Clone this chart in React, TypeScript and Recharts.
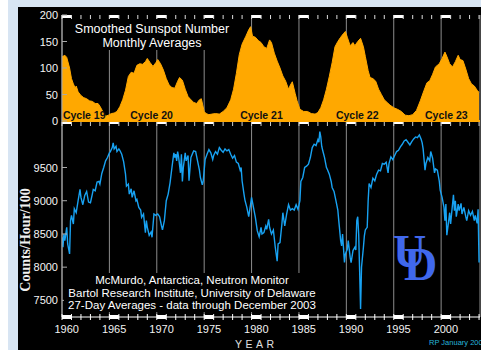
import React from 'react';
import { AreaChart, Area, LineChart, Line, XAxis, YAxis, CartesianGrid, ReferenceDot } from 'recharts';

const sunspotYears = [
  1960.0, 1960.3, 1960.5, 1960.8, 1961.0, 1961.2, 1961.4, 1961.5, 1961.7, 1962.0, 1962.3, 1962.6, 1962.9,
  1963.2, 1963.5, 1963.8, 1964.0, 1964.3, 1964.6, 1964.9, 1965.2, 1965.5, 1965.8, 1966.1, 1966.4, 1966.7,
  1967.0, 1967.3, 1967.6, 1967.9, 1968.2, 1968.5, 1968.8, 1969.0, 1969.3, 1969.6, 1969.9, 1970.1, 1970.4,
  1970.7, 1971.0, 1971.3, 1971.6, 1971.9, 1972.2, 1972.4, 1972.7, 1973.0, 1973.3, 1973.6, 1973.9, 1974.2,
  1974.5, 1974.7, 1975.0, 1975.2, 1975.5, 1975.8, 1976.2, 1976.6, 1977.0, 1977.4, 1977.8, 1978.1, 1978.4,
  1978.7, 1979.0, 1979.4, 1979.7, 1979.9, 1980.1, 1980.4, 1980.7, 1981.0, 1981.3, 1981.6, 1981.9, 1982.1,
  1982.4, 1982.7, 1983.0, 1983.3, 1983.6, 1983.9, 1984.1, 1984.3, 1984.6, 1984.8, 1985.1, 1985.5, 1985.9,
  1986.3, 1986.7, 1987.0, 1987.3, 1987.6, 1987.9, 1988.2, 1988.5, 1988.8, 1989.1, 1989.4, 1989.7, 1989.9,
  1990.1, 1990.4, 1990.7, 1990.9, 1991.2, 1991.5, 1991.8, 1992.0, 1992.3, 1992.5, 1992.8, 1993.1, 1993.4,
  1993.7, 1994.0, 1994.3, 1994.6, 1995.0, 1995.4, 1995.8, 1996.2, 1996.6, 1997.0, 1997.4, 1997.8, 1998.2,
  1998.5, 1998.8, 1999.1, 1999.4, 1999.8, 2000.1, 2000.4, 2000.6, 2000.9, 2001.2, 2001.5, 2001.8, 2002.0,
  2002.3, 2002.6, 2002.9, 2003.2, 2003.5, 2003.8, 2004.0,
];
const sunspotValues = [
  121, 124, 120, 100, 80, 70, 62, 66, 55, 48, 44, 42, 38,
  37, 33, 33, 28, 18, 9, 11, 14, 15, 18, 27, 40, 58,
  84, 92, 90, 105, 108, 107, 112, 118, 110, 103, 110, 116, 108,
  96, 80, 68, 63, 62, 75, 82, 77, 60, 46, 40, 35, 33,
  40, 42, 18, 14, 12, 13, 14, 13, 18, 25, 40, 60, 90,
  125, 145, 160, 172, 178, 160, 158, 152, 148, 140, 137, 153, 148,
  128, 113, 100, 85, 75, 60, 68, 74, 52, 38, 22, 18, 18,
  14, 13, 16, 25, 40, 60, 84, 110, 140, 150, 158, 165, 169,
  158, 142, 148, 142, 150, 156, 140, 122, 95, 82, 80, 75, 60,
  50, 40, 35, 30, 25, 22, 18, 11, 10, 12, 20, 38, 58,
  72, 76, 88, 102, 108, 118, 130, 122, 108, 102, 112, 124, 116,
  114, 98, 80, 70, 66, 58, 54,
];

const neutronYears = [
  1960.0, 1960.1, 1960.2, 1960.3, 1960.5, 1960.6, 1960.8, 1960.9, 1961.0, 1961.2, 1961.3, 1961.5, 1961.7, 1961.9,
  1962.0, 1962.2, 1962.4, 1962.6, 1962.8, 1963.0, 1963.2, 1963.3, 1963.5, 1963.7, 1963.9, 1964.0, 1964.2, 1964.4,
  1964.6, 1964.8, 1965.0, 1965.1, 1965.3, 1965.4, 1965.5, 1965.7, 1965.8, 1966.0, 1966.1, 1966.3, 1966.5, 1966.7,
  1966.8, 1967.0, 1967.1, 1967.3, 1967.4, 1967.6, 1967.8, 1967.9, 1968.1, 1968.3, 1968.4, 1968.6, 1968.8, 1968.9,
  1969.0, 1969.2, 1969.4, 1969.5, 1969.7, 1969.9, 1970.1, 1970.3, 1970.5, 1970.6, 1970.8, 1971.0, 1971.2, 1971.4,
  1971.6, 1971.8, 1971.9, 1972.0, 1972.1, 1972.2, 1972.3, 1972.5, 1972.6, 1972.7, 1972.8, 1973.0, 1973.1, 1973.3,
  1973.4, 1973.6, 1973.8, 1973.9, 1974.1, 1974.3, 1974.5, 1974.6, 1974.8, 1974.9, 1975.1, 1975.3, 1975.5, 1975.7,
  1975.9, 1976.0, 1976.2, 1976.4, 1976.6, 1976.8, 1977.0, 1977.2, 1977.4, 1977.6, 1977.8, 1978.0, 1978.2, 1978.4,
  1978.6, 1978.8, 1978.9, 1979.0, 1979.2, 1979.3, 1979.5, 1979.7, 1979.9, 1980.0, 1980.2, 1980.4, 1980.6, 1980.8,
  1981.0, 1981.1, 1981.3, 1981.5, 1981.6, 1981.8, 1981.9, 1982.1, 1982.3, 1982.5, 1982.7, 1982.8, 1983.0, 1983.2,
  1983.3, 1983.5, 1983.7, 1983.9, 1984.1, 1984.3, 1984.5, 1984.7, 1984.9, 1985.1, 1985.2, 1985.4, 1985.6, 1985.8,
  1986.0, 1986.2, 1986.4, 1986.6, 1986.8, 1987.0, 1987.1, 1987.2, 1987.3, 1987.4, 1987.5, 1987.7, 1987.9, 1988.0,
  1988.2, 1988.4, 1988.5, 1988.7, 1988.9, 1989.1, 1989.2, 1989.4, 1989.5, 1989.6, 1989.8, 1989.9, 1990.1, 1990.2,
  1990.4, 1990.5, 1990.7, 1990.9, 1991.0, 1991.1, 1991.2, 1991.3, 1991.4, 1991.5, 1991.6, 1991.8, 1991.9, 1992.0,
  1992.2, 1992.3, 1992.4, 1992.6, 1992.8, 1993.0, 1993.2, 1993.4, 1993.6, 1993.8, 1994.0, 1994.2, 1994.4, 1994.5,
  1994.7, 1994.9, 1995.1, 1995.3, 1995.5, 1995.7, 1995.9, 1996.1, 1996.3, 1996.5, 1996.7, 1996.9, 1997.1, 1997.3,
  1997.5, 1997.7, 1997.9, 1998.0, 1998.1, 1998.3, 1998.4, 1998.6, 1998.8, 1998.9, 1999.1, 1999.3, 1999.4, 1999.6,
  1999.8, 1999.9, 2000.1, 2000.3, 2000.4, 2000.5, 2000.6, 2000.8, 2000.9, 2001.0, 2001.1, 2001.3, 2001.4, 2001.5,
  2001.6, 2001.8, 2001.9, 2002.1, 2002.2, 2002.4, 2002.6, 2002.7, 2002.9, 2003.1, 2003.3, 2003.5, 2003.6, 2003.8,
  2003.9, 2004.0,
];
const neutronValues = [
  8450, 8300, 8500, 8400, 8600, 8350, 8200, 8700, 8780, 8650, 8880, 8820, 9000, 9170,
  9050, 8940, 9080, 9140, 8980, 8970, 9100, 9170, 9150, 9280, 9290, 9250, 9410, 9500,
  9600, 9650, 9720, 9740, 9800, 9870, 9780, 9820, 9740, 9780, 9760, 9700, 9590, 9400,
  9220, 9250, 9100, 9180, 9050, 9150, 9000, 9020, 8900, 8860, 8750, 8800, 8520, 8700,
  8600, 8480, 8530, 8450, 8800, 8780, 8800, 8760, 8620, 8560, 8700, 9000, 9100, 9270,
  9500, 9720, 9650, 9700, 9600, 9740, 9660, 9420, 9700, 9290, 9500, 9720, 9600, 9680,
  9300, 9650, 9720, 9750, 9740, 9600, 9460, 9350, 9240, 9300, 9620, 9700, 9770, 9720,
  9620, 9680, 9740, 9700, 9800, 9760, 9730, 9780, 9750, 9770, 9700, 9640, 9680, 9580,
  9560, 9460, 9500, 9300, 9100, 9010, 8900, 8760, 8950, 9050, 8900, 8750, 8550, 8460,
  8600, 8500, 8520, 8620, 8570, 8720, 8600, 8500, 8560, 8300, 8090, 8350, 8370, 8650,
  8820, 8620, 8800, 8940, 8860, 8880, 8860, 8940, 8870, 9000, 9290, 9350, 9500, 9520,
  9550, 9650, 9800, 9850, 9830, 9920, 9880, 10040, 9960, 9820, 9760, 9650, 9500, 9470,
  9400, 9290, 9200, 9140, 9000, 8860, 8700, 8400, 8320, 8500, 8070, 8200, 8270, 8400,
  8150, 8070, 8250, 8300, 8260, 8700, 8760, 8500, 7950, 7370, 8000, 8300, 8470, 8560,
  8600, 9000, 9260, 9200, 9340, 9300, 9400, 9460, 9450, 9560, 9550, 9580, 9420, 9560,
  9660, 9620, 9680, 9740, 9760, 9810, 9850, 9900, 9920, 9880, 9840, 9890, 9930, 9960,
  9950, 9990, 9920, 9870, 9780, 9460, 9560, 9650, 9600, 9740, 9640, 9420, 9480, 9460,
  9300, 9160, 9050, 8900, 8700, 8950, 8480, 8700, 8820, 8650, 8800, 9090, 8850, 9000,
  8760, 8950, 8850, 8960, 8800, 8900, 8760, 8700, 8850, 8780, 8840, 8700, 8780, 8660,
  8870, 8070,
];

const yearTicks = [
  1960, 1961, 1962, 1963, 1964, 1965, 1966, 1967, 1968, 1969, 1970, 1971, 1972, 1973, 1974,
  1975, 1976, 1977, 1978, 1979, 1980, 1981, 1982, 1983, 1984, 1985, 1986, 1987, 1988, 1989,
  1990, 1991, 1992, 1993, 1994, 1995, 1996, 1997, 1998, 1999, 2000, 2001, 2002, 2003, 2004,
];
const gridYears = [1965, 1970, 1975, 1980, 1985, 1990, 1995, 2000];
const sunspotTicks = [0, 50, 100, 150, 200];
const neutronTicks = [7500, 8000, 8500, 9000, 9500];
const cycleNames = ['Cycle 19', 'Cycle 20', 'Cycle 21', 'Cycle 22', 'Cycle 23'];
const cycleYears = [1960.1, 1967.2, 1978.8, 1988.9, 1998.3];

const sunspotData = sunspotYears.map((y, i) => ({ year: y, ssn: sunspotValues[i] }));
const neutronData = neutronYears.map((y, i) => ({ year: y, counts: neutronValues[i] }));

const W = 481;
const H = 350;
const X_DOMAIN: [number, number] = [1960, 2004.1];
const PLOT_W = 418;
const YEAR_PX = PLOT_W / (X_DOMAIN[1] - X_DOMAIN[0]);
const FONT = 'Liberation Sans, Arial, sans-serif';
const ORANGE = '#FFA800';
const BLUE = '#18a2f2';
const GRID = '#8c8c8c';

const TopEdgeTick = (p: any) => {
  const { x, y, payload } = p;
  const major = payload.value % 5 === 0;
  return (
    <g>
      {major && <rect x={x} y={y} width={YEAR_PX} height={3} fill="#fff" />}
      <line x1={x} x2={x} y1={y} y2={y + 4} stroke="#ddd" strokeWidth={1} />
    </g>
  );
};

const MidTick = (p: any) => {
  const { x, y, payload } = p;
  const major = payload.value % 5 === 0;
  return (
    <g>
      {major && <rect x={x} y={y + 1} width={YEAR_PX} height={2} fill="#fff" />}
      <line x1={x} x2={x} y1={y + 1} y2={y + 5} stroke="#ccc" strokeWidth={1} />
    </g>
  );
};

const BottomTick = (p: any) => {
  const { x, y, payload } = p;
  const v = payload.value;
  const major = v % 5 === 0;
  return (
    <g>
      {major && <rect x={x} y={y - 2} width={YEAR_PX} height={4} fill="#fff" />}
      <line x1={x} x2={x} y1={y - 3} y2={y + 3} stroke="#fff" strokeWidth={1} />
      {major && (
        <text x={x + YEAR_PX / 2} y={y + 16} textAnchor="middle" fill="#f2f2f2" fontSize={11} fontFamily={FONT}>
          {v}
        </text>
      )}
    </g>
  );
};

const LeftTick = (p: any) => {
  const { x, y, payload } = p;
  return (
    <g>
      <line x1={x} x2={x + 5} y1={y} y2={y} stroke="#aaa" strokeWidth={1} />
      <text x={x - 4} y={y + 4} textAnchor="end" fill="#f5f5f5" fontSize={11} fontFamily={FONT}>
        {payload.value}
      </text>
    </g>
  );
};

export default function App() {
  return (
    <div style={{ position: 'absolute', left: 0, top: 0, width: W, height: H, background: '#fff', overflow: 'hidden' }}>
      <div style={{ position: 'absolute', left: 8, top: 0, width: W + 20, height: H, background: '#d8e5f3' }} />
      <div style={{ position: 'absolute', left: 18, top: 7, width: W + 20, height: H + 20, background: '#000' }} />

      <div style={{ position: 'absolute', left: 0, top: 0 }}>
        <LineChart width={W} height={H} data={neutronData} margin={{ top: 121, right: 1, bottom: 32, left: 0 }}>
          <XAxis
            xAxisId="grid"
            dataKey="year"
            type="number"
            domain={X_DOMAIN}
            allowDataOverflow
            ticks={gridYears}
            interval={0}
            hide
          />
          <XAxis
            dataKey="year"
            type="number"
            domain={X_DOMAIN}
            allowDataOverflow
            ticks={yearTicks}
            interval={0}
            height={1}
            tickSize={0}
            tickMargin={0}
            axisLine={{ stroke: '#fff' }}
            tickLine={false}
            tick={(p: any) => <BottomTick {...p} />}
          />
          <YAxis
            type="number"
            domain={[7250, 10200]}
            allowDataOverflow
            ticks={neutronTicks}
            interval={0}
            width={62}
            tickSize={0}
            tickMargin={0}
            axisLine={{ stroke: '#aaa' }}
            tickLine={false}
            tick={(p: any) => <LeftTick {...p} />}
          />
          <CartesianGrid xAxisId="grid" horizontal={false} stroke={GRID} strokeWidth={1} />
          <Line
            dataKey="counts"
            type="linear"
            stroke={BLUE}
            strokeWidth={1.4}
            dot={false}
            isAnimationActive={false}
          />
        </LineChart>
      </div>

      <div style={{ position: 'absolute', left: 0, top: 0 }}>
        <AreaChart width={W} height={H} data={sunspotData} margin={{ top: 14, right: 1, bottom: 228, left: 0 }}>
          <XAxis
            xAxisId="grid"
            dataKey="year"
            type="number"
            domain={X_DOMAIN}
            allowDataOverflow
            ticks={gridYears}
            interval={0}
            hide
          />
          <XAxis
            xAxisId="top"
            orientation="top"
            dataKey="year"
            type="number"
            domain={X_DOMAIN}
            allowDataOverflow
            ticks={yearTicks}
            interval={0}
            height={1}
            tickSize={0}
            tickMargin={0}
            axisLine={false}
            tickLine={false}
            tick={(p: any) => <TopEdgeTick {...p} />}
          />
          <XAxis
            xAxisId="bot"
            dataKey="year"
            type="number"
            domain={X_DOMAIN}
            allowDataOverflow
            ticks={yearTicks}
            interval={0}
            height={1}
            tickSize={0}
            tickMargin={0}
            axisLine={{ stroke: ORANGE, strokeWidth: 2 }}
            tickLine={false}
            tick={(p: any) => <MidTick {...p} />}
          />
          <YAxis
            type="number"
            domain={[0, 200]}
            allowDataOverflow
            ticks={sunspotTicks}
            interval={0}
            width={62}
            tickSize={0}
            tickMargin={0}
            axisLine={{ stroke: '#aaa' }}
            tickLine={false}
            tick={(p: any) => <LeftTick {...p} />}
          />
          <CartesianGrid xAxisId="grid" horizontal={false} stroke={GRID} strokeWidth={1} />
          <Area
            xAxisId="bot"
            dataKey="ssn"
            type="linear"
            stroke={ORANGE}
            strokeWidth={1}
            fill={ORANGE}
            fillOpacity={1}
            baseValue={0}
            isAnimationActive={false}
          />
          {cycleYears.map((cy, i) => (
            <ReferenceDot
              key={cycleNames[i]}
              xAxisId="bot"
              x={cy}
              y={0}
              r={0}
              shape={(p: any) => (
                <text x={p.cx} y={p.cy - 2} fill="#111" fontSize={10.5} fontWeight="bold" fontFamily={FONT}>
                  {cycleNames[i]}
                </text>
              )}
            />
          ))}
        </AreaChart>
      </div>

      <svg width={W} height={H} style={{ position: 'absolute', left: 0, top: 0, pointerEvents: 'none' }}>
        <rect x={68} y={19} width={170} height={31} fill="#000" />
        <text x={152} y={33} textAnchor="middle" fill="#fff" fontSize={12.5} fontFamily={FONT}>
          Smoothed Sunspot Number
        </text>
        <text x={152} y={47} textAnchor="middle" fill="#fff" fontSize={12.5} fontFamily={FONT}>
          Monthly Averages
        </text>

        <rect x={64} y={273} width={258} height={39} fill="#000" />
        <text x={192} y={284} textAnchor="middle" fill="#fff" fontSize={11.5} fontFamily={FONT}>
          McMurdo, Antarctica, Neutron Monitor
        </text>
        <text x={192} y={296.5} textAnchor="middle" fill="#fff" fontSize={11.5} fontFamily={FONT}>
          Bartol Research Institute, University of Delaware
        </text>
        <text x={192} y={309} textAnchor="middle" fill="#fff" fontSize={11.5} fontFamily={FONT}>
          27-Day Averages - data through December 2003
        </text>

        <text x={393} y={267} fill="#4068ec" fontSize={46} fontWeight="bold" fontFamily="Liberation Serif, Times New Roman, serif">
          U
        </text>
        <text x={404} y={280} fill="#4068ec" fontSize={46} fontWeight="bold" fontFamily="Liberation Serif, Times New Roman, serif">
          D
        </text>

        <text
          transform="translate(30, 240) rotate(-90)"
          textAnchor="middle"
          fill="#f0f0f0"
          fontSize={14}
          fontWeight="bold"
          fontFamily="Liberation Serif, Times New Roman, serif"
        >
          Counts/Hour/100
        </text>
        <text x={235} y={348} fill="#e0e0e0" fontSize={10.5} letterSpacing={3.5} fontFamily={FONT}>
          YEAR
        </text>
        <text x={429} y={345} fill="#26b4da" fontSize={7.5} fontFamily={FONT}>
          RP January 2004
        </text>
      </svg>
    </div>
  );
}
